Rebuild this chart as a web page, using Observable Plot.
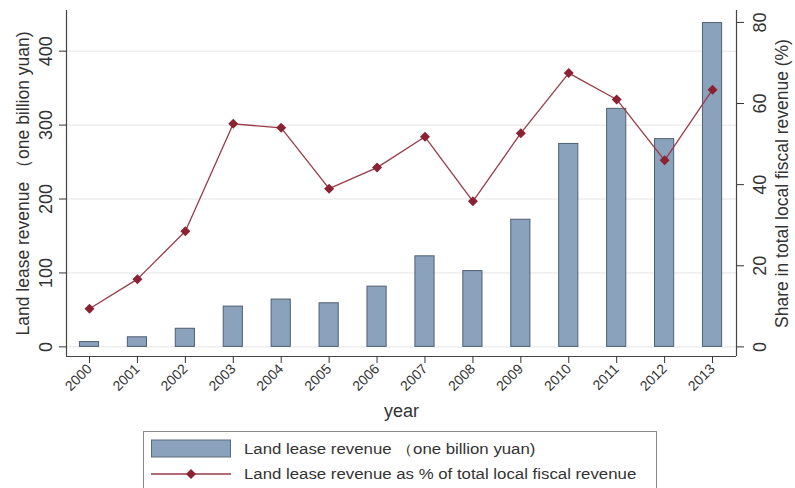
<!DOCTYPE html>
<html>
<head>
<meta charset="utf-8">
<script src="https://cdn.jsdelivr.net/npm/d3@7"></script>
<script src="https://cdn.jsdelivr.net/npm/@observablehq/plot@0.6"></script>
<style>
  html, body { margin: 0; padding: 0; background: #fff; }
  body { width: 795px; height: 488px; overflow: hidden; position: relative; font-family: "Liberation Sans", Arial, sans-serif; color: #333; }
  #legend { position: absolute; left: 143px; top: 431px; width: 514px; height: 70px; border: 1px solid #8a8a8a; box-sizing: border-box; }
  .row { position: absolute; left: 0; height: 20px; width: 510px; }
  .row span { position: absolute; left: 100px; top: 1px; white-space: nowrap; font-size: 14px; line-height: 18px; color: #333; transform: scaleX(1.2); transform-origin: 0 50%; }
</style>
</head>
<body>
<div id="chart"></div>
<div id="legend">
  <div class="row" style="top:7px;"><svg width="95" height="20" style="position:absolute;left:0;top:0"><rect x="7.5" y="1" width="79" height="17" fill="#8ba2bc" stroke="#5a6b7c"/></svg><span id="lg1"></span></div>
  <div class="row" style="top:32px;"><svg width="95" height="20" style="position:absolute;left:0;top:0"><line x1="7" x2="87" y1="10" y2="10" stroke="#9a3a48" stroke-width="1.3"/><path d="M47,5 L52,10 L47,15 L42,10 Z" fill="#8b2232"/></svg><span id="lg2"></span></div>
</div>
<script>
const years = [2000, 2001, 2002, 2003, 2004, 2005, 2006, 2007, 2008, 2009, 2010, 2011, 2012, 2013];
const revenue = [6.5, 13, 24.5, 54.5, 64, 59, 81.5, 122.5, 102.5, 172, 274.5, 322, 281, 438];
const share = [9.4, 16.7, 28.5, 55.0, 54.0, 39.0, 44.2, 51.8, 35.9, 52.7, 67.5, 61.0, 46.0, 63.4];
const leftTicks = [0, 100, 200, 300, 400];
const rightTicks = [0, 20, 40, 60, 80];
const leftTitle = "Land lease revenue （one billion yuan)";
const rightTitle = "Share in total local fiscal revenue (%)";
const xTitle = "year";
const legendLabels = ["Land lease revenue （one billion yuan)", "Land lease revenue as % of total local fiscal revenue"];

document.getElementById("lg1").textContent = legendLabels[0];
document.getElementById("lg2").textContent = legendLabels[1];

const k = 438.9 / 80; // right-axis units to left-axis units
const data = years.map((year, i) => ({year, rev: revenue[i], share: share[i]}));
const xDomain = [1999.52, 2013.5];
const yDomain = [-13, 455];

const chart = Plot.plot({
  width: 795,
  height: 425,
  marginTop: 10,
  marginBottom: 69,
  marginLeft: 66,
  marginRight: 59,
  style: {fontFamily: "Liberation Sans, Arial, sans-serif", color: "#333", background: "#fff"},
  x: {type: "linear", domain: xDomain},
  y: {domain: yDomain},
  marks: [
    Plot.gridY(leftTicks, {stroke: "#e4e4e4", strokeOpacity: 1, strokeWidth: 1}),
    Plot.rectY(data, {x1: d => d.year - 0.2, x2: d => d.year + 0.2, y1: 0, y2: "rev", fill: "#8ba2bc", stroke: "#4f5f70", strokeWidth: 1}),
    Plot.line(data, {x: "year", y: d => d.share * k, stroke: "#9a3a48", strokeWidth: 1.3}),
    Plot.dot(data, {x: "year", y: d => d.share * k, symbol: "diamond2", r: 4.5, fill: "#8b2232", stroke: "none"}),
    Plot.ruleX([xDomain[0]], {stroke: "#444", strokeWidth: 1.2}),
    Plot.ruleX([xDomain[1]], {stroke: "#444", strokeWidth: 1.2}),
    Plot.ruleY([yDomain[0]], {stroke: "#444", strokeWidth: 1.2}),
    Plot.axisY({anchor: "left", ticks: leftTicks, tickSize: 7, tickPadding: 8, tickRotate: -90, fontSize: 18, label: null}),
    Plot.axisY({anchor: "left", ticks: [], label: leftTitle, labelAnchor: "center", labelOffset: 50, fontSize: 17.5, labelArrow: "none"}),
    Plot.axisY({anchor: "right", ticks: rightTicks.map(v => v * k), tickFormat: d => String(Math.round(d / k)), tickSize: 7, tickPadding: 22, tickRotate: -90, fontSize: 18, label: null}),
    Plot.axisY({anchor: "right", ticks: [], label: rightTitle, labelAnchor: "center", labelOffset: 51, fontSize: 17.5, labelArrow: "none"}),
    Plot.axisX({ticks: years, tickFormat: d => String(d), tickSize: 7, tickPadding: 3, tickRotate: -45, fontSize: 14, label: null}),
    Plot.axisX({ticks: [], label: xTitle, labelAnchor: "center", labelOffset: 60, fontSize: 18, labelArrow: "none"})
  ]
});
document.getElementById("chart").appendChild(chart);
</script>
</body>
</html>
